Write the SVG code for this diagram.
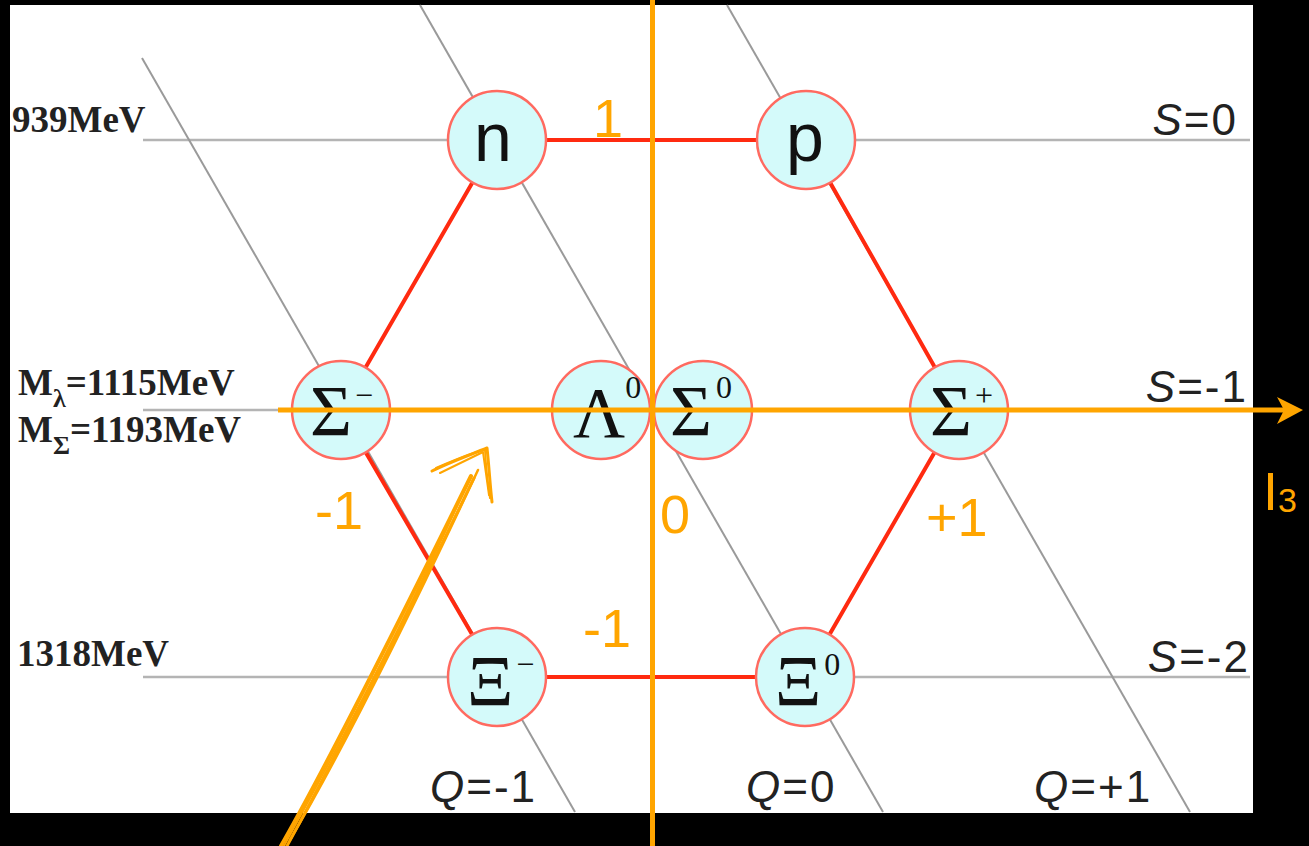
<svg xmlns="http://www.w3.org/2000/svg" width="1309" height="846" viewBox="0 0 1309 846">
<defs>
<style>
.grid{stroke:#b4b4b4;stroke-width:2.5;fill:none}
.diag{stroke:#9a9a9a;stroke-width:2;fill:none}
.hex{stroke:#ff2a10;stroke-width:4;fill:none}
.node{fill:#d4fafa;stroke:#ff6a60;stroke-width:2.5}
.greek{font-family:"Liberation Serif","DejaVu Serif",serif;font-size:72px;fill:#111}
.sup{font-size:32px}
.latin{font-family:"Liberation Sans",Arial,sans-serif;font-size:68px;fill:#111}
.mass{font-family:"Liberation Serif","Times New Roman",serif;font-weight:bold;font-size:37px;fill:#222}
.massub{font-size:26px}
.qs{font-family:"Liberation Sans",Arial,sans-serif;font-size:44px;fill:#222;letter-spacing:2px}
.qsi{font-style:italic}
.axis{stroke:#ffa500;stroke-width:5;fill:none}
.olab{font-family:"Liberation Sans",Arial,sans-serif;font-size:54px;fill:#ffa500}
.sketch{stroke:#ffa500;fill:none;stroke-linecap:round;stroke-linejoin:round}
</style>
</defs>
<rect x="0" y="0" width="1309" height="846" fill="#000"/>
<rect x="10" y="5" width="1243" height="808" fill="#fff"/>

<g id="grid">
<line class="grid" x1="143" y1="140" x2="1250" y2="140"/>
<line class="grid" x1="143" y1="410" x2="1250" y2="410"/>
<line class="grid" x1="143" y1="677" x2="1250" y2="677"/>
<line class="diag" x1="142" y1="58" x2="575" y2="812"/>
<line class="diag" x1="420" y1="5" x2="883" y2="812"/>
<line class="diag" x1="727" y1="5" x2="1190" y2="812"/>
</g>

<g id="connectors">
<polyline class="hex" points="497,140 806,140 959,410 805,677 497,677 341,410 497,140"/>
</g>

<g id="labels-left">
<text class="mass" x="12" y="132">939MeV</text>
<text class="mass" x="18" y="395" font-size="36">M<tspan class="massub" dy="12">λ</tspan><tspan dy="-12">=1115MeV</tspan></text>
<text class="mass" x="18" y="442" font-size="36">M<tspan class="massub" dy="12">Σ</tspan><tspan dy="-12">=1193MeV</tspan></text>
<text class="mass" x="17" y="666">1318MeV</text>
</g>

<g id="labels-right">
<text class="qs" x="1238" y="135" text-anchor="end"><tspan class="qsi">S</tspan>=0</text>
<text class="qs" x="1248" y="402" text-anchor="end"><tspan class="qsi">S</tspan>=-1</text>
<text class="qs" x="1250" y="672" text-anchor="end"><tspan class="qsi">S</tspan>=-2</text>
<text class="qs" x="430" y="802"><tspan class="qsi">Q</tspan>=-1</text>
<text class="qs" x="746" y="802"><tspan class="qsi">Q</tspan>=0</text>
<text class="qs" x="1034" y="802"><tspan class="qsi">Q</tspan>=+1</text>
</g>

<g id="node-n">
<circle class="node" cx="497" cy="140" r="49"/>
<text class="latin" x="493" y="161" text-anchor="middle">n</text>
</g>
<g id="node-p">
<circle class="node" cx="806" cy="140" r="49"/>
<text class="latin" x="805" y="161" text-anchor="middle">p</text>
</g>
<g id="node-sigma-minus">
<circle class="node" cx="341" cy="410" r="49"/>
<text class="greek" x="310" y="435">Σ<tspan class="sup" font-size="36" dx="3" dy="-29">−</tspan></text>
</g>
<g id="node-lambda0">
<circle class="node" cx="601" cy="410" r="49"/>
<text class="greek" x="573" y="437" font-size="63">Λ<tspan class="sup" dx="0" dy="-39">0</tspan></text>
</g>
<g id="node-sigma0">
<circle class="node" cx="703" cy="410" r="49"/>
<text class="greek" x="670" y="435">Σ<tspan class="sup" dx="4" dy="-37">0</tspan></text>
</g>
<g id="node-sigma-plus">
<circle class="node" cx="959" cy="410" r="49"/>
<text class="greek" x="930" y="435">Σ<tspan class="sup" font-size="38" dx="3" dy="-29">+</tspan></text>
</g>
<g id="node-xi-minus">
<circle class="node" cx="497" cy="677" r="49"/>
<text class="greek" x="467" y="705">Ξ<tspan class="sup" font-size="36" dx="3" dy="-30">−</tspan></text>
</g>
<g id="node-xi0">
<circle class="node" cx="805" cy="677" r="49"/>
<text class="greek" x="775" y="705">Ξ<tspan class="sup" dx="3" dy="-30">0</tspan></text>
</g>

<g id="axes">
<line class="axis" x1="652.5" y1="0" x2="652.5" y2="846"/>
<line class="axis" x1="278" y1="410" x2="1296" y2="410"/>
<path d="M1277,397 L1303,410 L1277,424 L1284,410 Z" fill="#ffa500"/>
<text class="olab" x="593" y="137">1</text>
<text class="olab" x="315" y="529">-1</text>
<text class="olab" x="660" y="533">0</text>
<text class="olab" x="926" y="536">+1</text>
<text class="olab" x="583" y="647">-1</text>
<text class="olab" x="1263" y="510" font-size="60">I<tspan font-size="34" dy="2">3</tspan></text>
</g>

<g id="sketch-arrow">
<path class="sketch" stroke-width="4" d="M281,846 C330,760 400,620 471,476"/>
<path class="sketch" stroke-width="3" d="M287,846 C336,756 410,610 474,478"/>
<path class="sketch" stroke-width="2" d="M284,846 C340,744 408,616 468,482"/>
<path class="sketch" stroke-width="2.5" d="M290,840 C344,748 404,628 478,470"/>
<path class="sketch" stroke-width="3" d="M432,471 C450,462 470,455 487,448 C489,466 490,485 492,502"/>
<path class="sketch" stroke-width="2" d="M436,468 C455,460 472,452 485,450 C486,470 488,484 490,498"/>
<path class="sketch" stroke-width="2" d="M440,473 L483,452 L489,495"/>
</g>
</svg>
